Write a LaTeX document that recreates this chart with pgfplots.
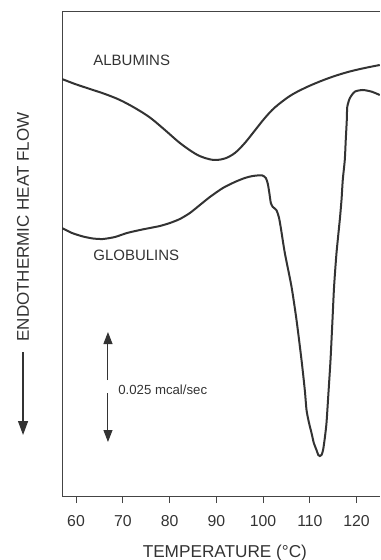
\documentclass[border=0pt]{standalone}
\usepackage{fontspec}
\setmainfont{Liberation Sans}
\usepackage{pgfplots}
\pgfplotsset{compat=1.18}
\usetikzlibrary{arrows.meta}
\definecolor{ink}{HTML}{333333}
\definecolor{axisink}{HTML}{444444}
\begin{document}
\begin{tikzpicture}
\path[use as bounding box] (-31pt,-32pt) rectangle (159pt,248pt);
\begin{axis}[
  at={(0pt,0pt)}, anchor=south west,
  scale only axis, width=159pt, height=242pt,
  xmin=57, xmax=125, ymin=12, ymax=496, y dir=reverse,
  separate axis lines,
  axis x line*=box, axis y line*=left,
  axis line style={axisink, line width=0.5pt},
  xtick={60,70,...,120}, ytick=\empty,
  xtick pos=left, tick align=outside,
  major tick length=3.5pt,
  tick style={axisink, line width=0.5pt},
  /pgf/number format/assume math mode=true,
  xticklabel style={font=\fontsize{7.9}{9}\selectfont, text=ink, yshift=-2.5pt},
  clip mode=individual,
]
% Albumins
\addplot[ink, line width=1pt, smooth, tension=0.55] coordinates {
(57.00,79) (59.78,84) (62.98,89) (66.19,94) (69.39,100) (72.60,108)
(75.80,117.5) (79.01,130) (82.21,143) (85.42,153.5) (87.56,158) (89.69,160)
(91.83,158.5) (93.97,153) (96.10,143) (98.24,130.5) (100.38,118) (102.51,107.5)
(105.72,96) (108.92,88) (112.13,81.5) (115.33,76) (118.54,71.5) (121.75,68) (124.95,65)
};
% Globulins
\addplot[ink, line width=1pt, smooth, tension=0.4] coordinates {
(57.00,228) (59.14,233) (61.49,236.5) (63.62,238.5) (65.76,239) (68.33,237)
(70.89,233) (73.67,230) (75.80,228) (77.94,226) (80.08,223) (82.21,219)
(84.35,213) (86.49,205) (88.62,197) (91.40,188) (93.97,182)
(96.10,178) (97.81,176) (99.74,175.3) (100.59,178) (101.02,184) (101.34,193)
(101.66,203) (102.09,207) (102.83,210) (103.37,217) (103.80,228) (104.65,253)
(106.08,286.7) (107.15,320) (108.22,360) (108.92,390) (109.29,410) (109.78,422)
(110.36,433) (110.85,443) (111.42,450) (111.81,455) (112.13,456) (112.49,455)
(112.83,450) (113.20,438) (113.56,423) (113.95,395) (114.42,360) (114.84,320)
(115.18,286.7) (115.70,253) (116.40,220) (116.77,200) (117.04,180) (117.47,160)
(117.68,140) (117.90,120) (118.00,107) (118.54,98.3) (119.61,91.7) (121.32,90)
(123.24,91.7) (124.95,95)
};
% labels
\node[anchor=west, inner sep=0pt, text=ink, font=\fontsize{7.5}{9}\selectfont] at (axis cs:63.62,60) {ALBUMINS};
\node[anchor=west, inner sep=0pt, text=ink, font=\fontsize{7.5}{9}\selectfont] at (axis cs:63.62,255) {GLOBULINS};
% scale bar
\draw[ink, line width=0.5pt, -{Triangle[length=6pt,width=4.5pt]}] (axis cs:66.83,380) -- (axis cs:66.83,332);
\draw[ink, line width=0.5pt, -{Triangle[length=6pt,width=4.5pt]}] (axis cs:66.83,393) -- (axis cs:66.83,442);
\node[anchor=west, inner sep=0pt, text=ink, font=\fontsize{6.6}{8}\selectfont] at (axis cs:68.97,390) {0.025 mcal/sec};
% y label
\node[rotate=90, inner sep=0pt, text=ink, font=\fontsize{8.5}{10}\selectfont] at (axis cs:48.67,227) {ENDOTHERMIC HEAT FLOW};
\draw[ink, line width=0.6pt, -{Triangle[length=7pt,width=5pt]}] (axis cs:48.67,352) -- (axis cs:48.67,435);
% x label
\node[inner sep=0pt, text=ink, font=\fontsize{8.6}{10}\selectfont] at (axis cs:91.83,553) {TEMPERATURE (°C)};
\end{axis}
\end{tikzpicture}
\end{document}
